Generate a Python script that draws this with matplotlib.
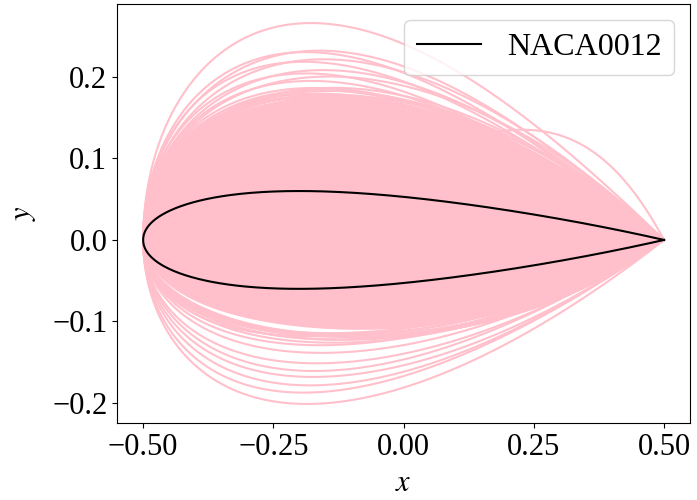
import numpy as np
import matplotlib.pyplot as plt

plt.rcParams['font.family'] = ['Liberation Serif', 'DejaVu Serif']
plt.rcParams['mathtext.fontset'] = 'stix'

# CST (Bernstein, degree 2) coefficients of the sampled shapes: front, mid, aft
upper_front = [0.70, 0.58, 0.62, 0.55, 0.60, 0.52, 0.55, 0.50, 0.52, 0.45, 0.50, 0.48,
               0.47, 0.46, 0.49, 0.44, 0.45, 0.47, 0.43, 0.46, 0.44, 0.42, 0.48, 0.35]
upper_mid = [0.70, 0.64, 0.60, 0.60, 0.55, 0.56, 0.53, 0.52, 0.50, 0.50, 0.46, 0.47,
             0.46, 0.47, 0.44, 0.47, 0.45, 0.44, 0.46, 0.45, 0.44, 0.46, 0.42, -0.20]
upper_aft = [0.62, 0.55, 0.50, 0.58, 0.50, 0.55, 0.45, 0.60, 0.48, 0.55, 0.52, 0.50,
             0.48, 0.55, 0.46, 0.50, 0.56, 0.44, 0.52, 0.47, 0.50, 0.45, 0.53, 1.20]

lower_front = [0.55, 0.52, 0.48, 0.45, 0.42, 0.40, 0.36, 0.34, 0.32, 0.30, 0.31, 0.29,
               0.30, 0.28, 0.33, 0.27, 0.29, 0.30]
lower_mid = [0.50, 0.46, 0.45, 0.42, 0.42, 0.38, 0.35, 0.32, 0.31, 0.31, 0.29, 0.30,
             0.28, 0.29, 0.27, 0.30, 0.28, 0.27]
lower_aft = [0.50, 0.45, 0.45, 0.45, 0.40, 0.42, 0.40, 0.38, 0.42, 0.40, 0.45, 0.38,
             0.44, 0.40, 0.36, 0.42, 0.47, 0.39]

# solid core region
core_upper = [0.45, 0.45, 0.46]
core_lower = [0.26, 0.26, 0.44]

naca_t = 0.12


def cst(coef, t):
    a0, a1, a2 = coef
    s = a0 * (1 - t) ** 2 + 2 * a1 * t * (1 - t) + a2 * t ** 2
    return np.sqrt(t) * (1 - t) * s


t = 0.5 * (1 - np.cos(np.linspace(0, np.pi, 300)))
x = t - 0.5

fig, ax = plt.subplots(figsize=(6.97, 5), dpi=100)
fig.subplots_adjust(left=0.168, right=0.99, top=0.992, bottom=0.154)

# 塗りつぶし（密集部分）
ax.fill_between(x, -cst(core_lower, t), cst(core_upper, t), color='pink', lw=0)

for c in zip(upper_front, upper_mid, upper_aft):
    ax.plot(x, cst(c, t), color='pink', lw=1.5)
for c in zip(lower_front, lower_mid, lower_aft):
    ax.plot(x, -cst(c, t), color='pink', lw=1.5)

# NACA0012
yt = 5 * naca_t * (0.2969 * np.sqrt(t) - 0.126 * t - 0.3516 * t ** 2
                   + 0.2843 * t ** 3 - 0.1036 * t ** 4)
xx = np.concatenate([x[::-1], x[1:]])
yy = np.concatenate([yt[::-1], -yt[1:]])
ax.plot(xx, yy, color='black', lw=1.5, label='NACA0012')

ax.set_xticks([-0.5, -0.25, 0, 0.25, 0.5])
ax.tick_params(labelsize=22)
ax.set_xlabel('$x$', fontsize=22, labelpad=5)
ax.set_ylabel('$y$', fontsize=22, labelpad=10)
ax.legend(loc='upper right', fontsize=23)

plt.savefig('out.png')
